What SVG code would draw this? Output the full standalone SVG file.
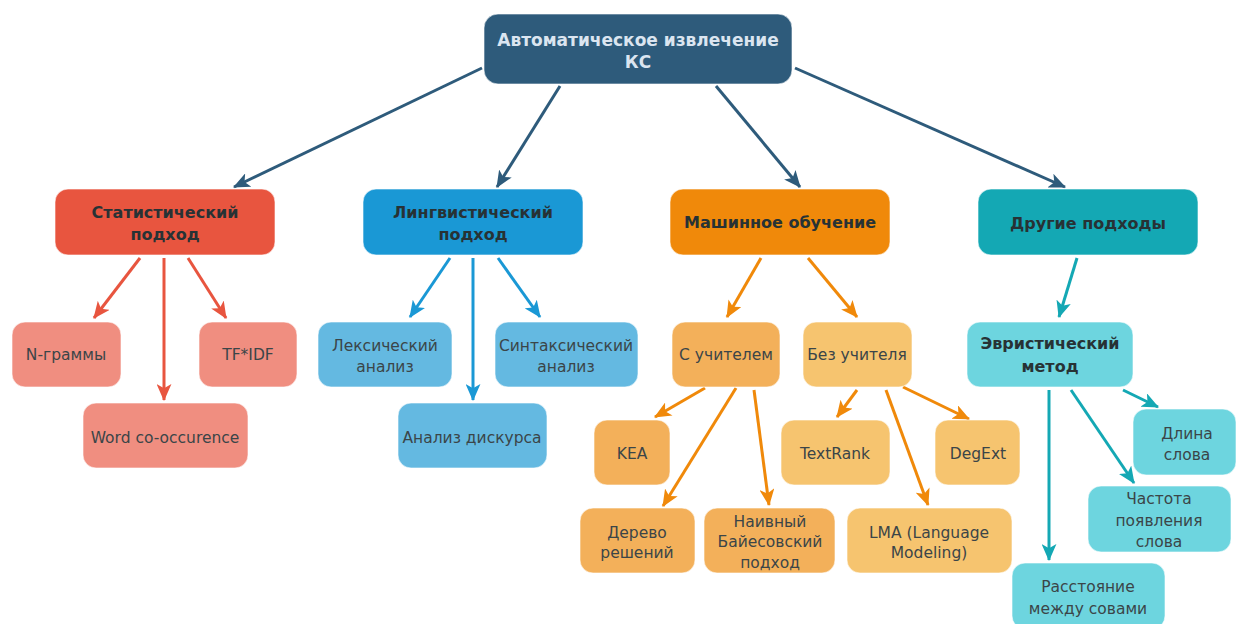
<svg xmlns="http://www.w3.org/2000/svg" width="1237" height="624" viewBox="0 0 1237 624">
<defs>
<style>
.t{font-family:"DejaVu Sans",Verdana,sans-serif;font-size:15.5px;fill:#3b4548;text-anchor:middle}
.b{font-weight:bold;fill:#273235;font-size:16px}
.top{font-size:17px;fill:#dbe5f0;font-weight:bold}
.n{stroke:#ffffff;stroke-opacity:0.6;stroke-width:1}
.c{fill:none;stroke-width:3}
</style>
<marker id="mD" markerUnits="userSpaceOnUse" markerWidth="17" markerHeight="15" viewBox="0 0 16 14" refX="15" refY="7" orient="auto"><path d="M0,0 L16,7 L0,14 L4,7 z" fill="#2e5b7b"/></marker>
<marker id="mR" markerUnits="userSpaceOnUse" markerWidth="17" markerHeight="15" viewBox="0 0 16 14" refX="15" refY="7" orient="auto"><path d="M0,0 L16,7 L0,14 L4,7 z" fill="#e8553f"/></marker>
<marker id="mB" markerUnits="userSpaceOnUse" markerWidth="17" markerHeight="15" viewBox="0 0 16 14" refX="15" refY="7" orient="auto"><path d="M0,0 L16,7 L0,14 L4,7 z" fill="#1a98d5"/></marker>
<marker id="mO" markerUnits="userSpaceOnUse" markerWidth="17" markerHeight="15" viewBox="0 0 16 14" refX="15" refY="7" orient="auto"><path d="M0,0 L16,7 L0,14 L4,7 z" fill="#f0890a"/></marker>
<marker id="mT" markerUnits="userSpaceOnUse" markerWidth="17" markerHeight="15" viewBox="0 0 16 14" refX="15" refY="7" orient="auto"><path d="M0,0 L16,7 L0,14 L4,7 z" fill="#14a8b4"/></marker>
</defs>
<rect width="1237" height="624" fill="#ffffff"/>
<g id="connectors">
<g stroke="#2e5b7b" marker-end="url(#mD)" class="c">
<line x1="482" y1="68" x2="234" y2="187"/>
<line x1="560" y1="86" x2="497" y2="187"/>
<line x1="716" y1="86" x2="800" y2="187"/>
<line x1="795" y1="68" x2="1065" y2="187"/>
</g>
<g stroke="#e8553f" marker-end="url(#mR)" class="c">
<line x1="140" y1="258" x2="94" y2="318"/>
<line x1="164" y1="258" x2="164" y2="400"/>
<line x1="188" y1="258" x2="226" y2="318"/>
</g>
<g stroke="#1a98d5" marker-end="url(#mB)" class="c">
<line x1="450" y1="258" x2="410" y2="317"/>
<line x1="473" y1="258" x2="473" y2="400"/>
<line x1="498" y1="258" x2="540" y2="317"/>
</g>
<g stroke="#f0890a" marker-end="url(#mO)" class="c">
<line x1="761" y1="258" x2="727" y2="317"/>
<line x1="808" y1="258" x2="857" y2="317"/>
<line x1="705" y1="388" x2="655" y2="417"/>
<line x1="736" y1="388" x2="663" y2="506"/>
<line x1="754" y1="390" x2="769" y2="505"/>
<line x1="857" y1="390" x2="837" y2="417"/>
<line x1="886" y1="390" x2="928" y2="505"/>
<line x1="903" y1="387" x2="969" y2="419"/>
</g>
<g stroke="#14a8b4" marker-end="url(#mT)" class="c">
<line x1="1077" y1="258" x2="1059" y2="317"/>
<line x1="1123" y1="390" x2="1158" y2="407"/>
<line x1="1071" y1="390" x2="1134" y2="483"/>
<line x1="1049" y1="390" x2="1049" y2="560"/>
</g>
</g>
<g id="root"><rect class="n" x="484" y="14" width="308" height="70" rx="14" fill="#2e5b7b"/><text class="t top" x="638" y="46">Автоматическое извлечение</text><text class="t top" x="638" y="68">КС</text></g>

<g id="stat"><rect class="n" x="55" y="189" width="220" height="66" rx="13" fill="#e8553f"/><text class="t b" x="165" y="218">Статистический</text><text class="t b" x="165" y="240">подход</text></g>
<g id="ngram"><rect class="n" x="12" y="322" width="109" height="65" rx="13" fill="#f08e80"/><text class="t" x="66" y="360">N-граммы</text></g>
<g id="tfidf"><rect class="n" x="199" y="322" width="98" height="65" rx="13" fill="#f08e80"/><text class="t" x="248" y="360">TF*IDF</text></g>
<g id="wco"><rect class="n" x="83" y="403" width="165" height="65" rx="13" fill="#f08e80"/><text class="t" x="165" y="443">Word co-occurence</text></g>

<g id="ling"><rect class="n" x="363" y="189" width="220" height="66" rx="13" fill="#1a98d5"/><text class="t b" x="473" y="218">Лингвистический</text><text class="t b" x="473" y="240">подход</text></g>
<g id="lex"><rect class="n" x="318" y="322" width="134" height="65" rx="13" fill="#64b9e1"/><text class="t" x="385" y="351">Лексический</text><text class="t" x="385" y="372">анализ</text></g>
<g id="syn"><rect class="n" x="495" y="322" width="143" height="65" rx="13" fill="#64b9e1"/><text class="t" x="566" y="351">Синтаксический</text><text class="t" x="566" y="372">анализ</text></g>
<g id="disc"><rect class="n" x="398" y="403" width="149" height="65" rx="13" fill="#64b9e1"/><text class="t" x="472" y="443">Анализ дискурса</text></g>

<g id="ml"><rect class="n" x="670" y="189" width="220" height="66" rx="13" fill="#f0890a"/><text class="t b" x="780" y="228">Машинное обучение</text></g>
<g id="sup"><rect class="n" x="672" y="322" width="108" height="65" rx="13" fill="#f3b05a"/><text class="t" x="726" y="360">С учителем</text></g>
<g id="unsup"><rect class="n" x="803" y="322" width="109" height="65" rx="13" fill="#f6c46f"/><text class="t" x="857" y="360">Без учителя</text></g>
<g id="kea"><rect class="n" x="594" y="420" width="76" height="65" rx="13" fill="#f3b05a"/><text class="t" x="632" y="459">KEA</text></g>
<g id="tree"><rect class="n" x="580" y="508" width="115" height="65" rx="13" fill="#f3b05a"/><text class="t" x="637" y="538">Дерево</text><text class="t" x="637" y="558">решений</text></g>
<g id="bayes"><rect class="n" x="704" y="508" width="131" height="65" rx="13" fill="#f3b05a"/><text class="t" x="770" y="527">Наивный</text><text class="t" x="770" y="547">Байесовский</text><text class="t" x="770" y="568">подход</text></g>
<g id="textrank"><rect class="n" x="781" y="420" width="109" height="65" rx="13" fill="#f6c46f"/><text class="t" x="835" y="459">TextRank</text></g>
<g id="degext"><rect class="n" x="935" y="420" width="85" height="65" rx="13" fill="#f6c46f"/><text class="t" x="978" y="459">DegExt</text></g>
<g id="lma"><rect class="n" x="847" y="508" width="165" height="65" rx="13" fill="#f6c46f"/><text class="t" x="929" y="538">LMA (Language</text><text class="t" x="929" y="558">Modeling)</text></g>

<g id="other"><rect class="n" x="978" y="189" width="220" height="66" rx="13" fill="#14a8b4"/><text class="t b" x="1088" y="229">Другие подходы</text></g>
<g id="heur"><rect class="n" x="967" y="322" width="166" height="65" rx="13" fill="#6dd5df"/><text class="t b" x="1050" y="349">Эвристический</text><text class="t b" x="1050" y="372">метод</text></g>
<g id="len"><rect class="n" x="1133" y="409" width="103" height="66" rx="13" fill="#6dd5df"/><text class="t" x="1187" y="439">Длина</text><text class="t" x="1187" y="460">слова</text></g>
<g id="freq"><rect class="n" x="1088" y="486" width="143" height="66" rx="13" fill="#6dd5df"/><text class="t" x="1159" y="504">Частота</text><text class="t" x="1159" y="526">появления</text><text class="t" x="1159" y="547">слова</text></g>
<g id="dist"><rect class="n" x="1012" y="563" width="153" height="66" rx="13" fill="#6dd5df"/><text class="t" x="1088" y="592">Расстояние</text><text class="t" x="1088" y="614">между совами</text></g>
</svg>
